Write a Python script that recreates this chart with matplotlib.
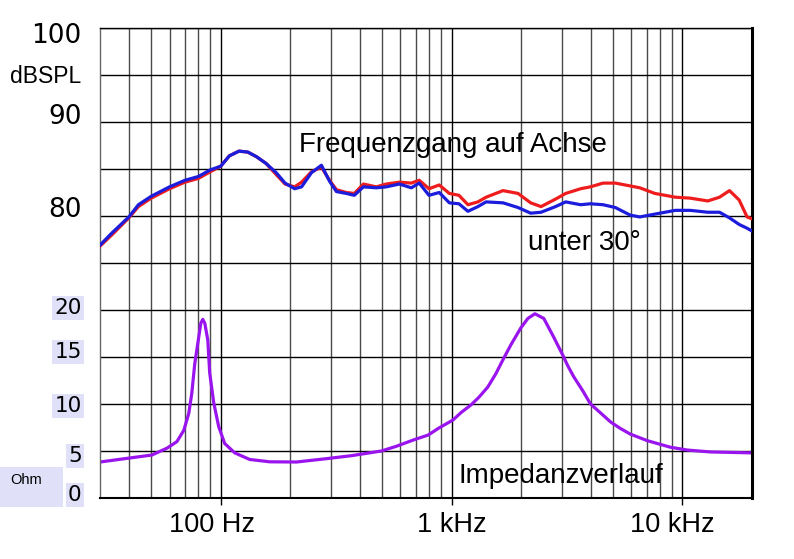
import matplotlib
matplotlib.use('Agg')
import matplotlib.pyplot as plt
from matplotlib.patches import Rectangle
from matplotlib.transforms import blended_transform_factory

# frequency response, on axis (red) and 30 deg off axis (blue)
fr_freq = [30, 33.8, 40, 44, 50, 60, 70, 80, 90, 100, 109, 120, 131, 143, 157,
           174, 190, 209, 224, 247, 273, 296, 317, 350, 379, 415, 472, 521, 594,
           669, 724, 798, 884, 978, 1076, 1177, 1300, 1410, 1670, 1940, 2200,
           2440, 2820, 3120, 3620, 3990, 4530, 5120, 5930, 6530, 7590, 9310,
           10800, 12870, 14470, 15980, 17600, 19040, 20000]
spl_axis = [76.8, 78.0, 79.8, 81.0, 81.9, 82.9, 83.6, 84.0, 84.7, 85.3, 86.4,
            86.9, 86.8, 86.3, 85.6, 84.4, 83.4, 83.1, 83.6, 84.7, 85.2, 83.8,
            82.8, 82.5, 82.4, 83.4, 83.1, 83.4, 83.6, 83.5, 83.8, 82.9, 83.3,
            82.4, 82.2, 81.2, 81.5, 82.0, 82.7, 82.4, 81.4, 81.0, 81.8, 82.4,
            82.9, 83.1, 83.5, 83.5, 83.2, 83.0, 82.4, 82.0, 81.9, 81.6, 82.0,
            82.7, 81.7, 79.9, 79.7]
spl_30deg = [76.9, 78.2, 79.9, 81.2, 82.1, 83.1, 83.8, 84.2, 84.9, 85.3, 86.4,
             86.9, 86.8, 86.3, 85.6, 84.6, 83.5, 82.9, 83.1, 84.6, 85.4, 83.7,
             82.6, 82.4, 82.2, 83.1, 83.0, 83.1, 83.4, 83.0, 83.5, 82.2, 82.5,
             81.4, 81.3, 80.5, 81.0, 81.5, 81.4, 80.9, 80.3, 80.4, 81.0, 81.5,
             81.2, 81.3, 81.2, 80.9, 80.1, 79.9, 80.2, 80.6, 80.6, 80.4, 80.4,
             79.8, 79.1, 78.7, 78.4]

# impedance
z_freq = [30, 40.5, 50.3, 58.5, 64.6, 69.2, 72.7, 74.9, 77.2, 80.3, 82.0, 83.6,
          85.3, 87.9, 89.6, 93.3, 98.0, 104, 115, 133.5, 163, 213, 279, 368,
          496, 576, 688, 792, 875, 1014, 1100, 1213, 1311, 1434, 1553, 1668,
          1806, 1995, 2139, 2295, 2508, 2770, 3030, 3180, 3380, 3700, 3995,
          4440, 4875, 5380, 5940, 7040, 8870, 10500, 13200, 20000]
z_ohm = [3.83, 4.26, 4.57, 5.3, 6.0, 7.2, 9.0, 11.1, 14.3, 17.1, 18.6, 19.0,
         18.6, 16.8, 13.3, 10.1, 7.6, 5.8, 4.8, 4.1, 3.85, 3.83, 4.15, 4.5,
         5.0, 5.5, 6.2, 6.7, 7.4, 8.3, 9.1, 9.9, 10.7, 11.8, 13.2, 14.7, 16.3,
         18.1, 19.1, 19.6, 19.1, 17.1, 15.2, 14.1, 12.9, 11.4, 10.0, 9.0, 8.1,
         7.4, 6.8, 6.1, 5.4, 5.1, 4.9, 4.8]

db_labels = ['100', '90', '80']
ohm_labels = ['20', '15', '10', '5', '0']
x_label_freqs = [92, 1000, 9000]
x_labels = ['100 Hz', '1 kHz', '10 kHz']

plt.rcParams['font.family'] = ['Liberation Sans', 'DejaVu Sans']

fig = plt.figure(figsize=(7.94, 5.59), dpi=100)
ax = fig.add_axes([100 / 794, 61 / 559, 652 / 794, 470 / 559])
ax.set_xscale('log')
ax.set_xlim(30, 20000)
ax.set_ylim(0, 50)

# grid
ax.set_xticks([100, 1000, 10000])
minor = [m * d for d in (10, 100, 1000) for m in range(2, 10) if m * d > 30]
ax.set_xticks(minor, minor=True)
ax.set_xticklabels([])
ax.set_xticklabels([], minor=True)
ax.set_yticks(range(0, 51, 5))
ax.set_yticklabels([])
ax.tick_params(axis='y', length=0)
ax.tick_params(axis='x', which='major', length=5, width=1, color='black')
ax.tick_params(axis='x', which='minor', length=0)
ax.grid(True, which='major', axis='both', color='black', lw=1.0)
ax.grid(True, which='minor', axis='x', color='#4a4a4a', lw=1.0)
ax.set_axisbelow(True)

ax.spines['top'].set_linewidth(1.0)
ax.spines['bottom'].set_linewidth(1.5)
ax.spines['right'].set_linewidth(2.2)
ax.spines['left'].set_color('#666666')
ax.spines['left'].set_linewidth(1.0)

ax.plot(z_freq, z_ohm, color='#9a14ee', lw=2.3, solid_capstyle='round',
        solid_joinstyle='round')

ax2 = ax.twinx()
ax2.set_ylim(50, 100)
ax2.set_yticks([])
for s in ax2.spines.values():
    s.set_visible(False)
ax2.plot(fr_freq, spl_axis, color='#ee1c1c', lw=2.3, solid_joinstyle='round')
ax2.plot(fr_freq, spl_30deg, color='#1c1cdc', lw=2.3, solid_joinstyle='round')

# left labels
tr_db = blended_transform_factory(ax.transAxes, ax2.transData)
tr_z = blended_transform_factory(ax.transAxes, ax.transData)
lx = -0.028
for lbl, y in zip(db_labels, [99.2, 90.5, 80.6]):
    ax2.text(lx, y, lbl, transform=tr_db, ha='right', va='center',
             fontsize=19, family='DejaVu Sans', clip_on=False)
ax2.text(lx, 94.8, 'dBSPL', transform=tr_db, ha='right', va='center',
         fontsize=16.5, clip_on=False)

for lbl, y in zip(ohm_labels, [20.2, 15.5, 9.8, 4.5, 0.3]):
    ax.text(lx, y, lbl, transform=tr_z, ha='right', va='center',
            fontsize=15.5, family='DejaVu Sans', clip_on=False,
            bbox=dict(facecolor='#e0e0f8', edgecolor='none', pad=1.5))
ax.add_patch(Rectangle((-0.153, -0.019), 0.096, 0.085, transform=ax.transAxes,
                       facecolor='#e0e0f8', edgecolor='none', clip_on=False))
ax.text(-0.138, 1.9, 'Ohm', transform=tr_z, ha='left', va='center',
        fontsize=10.5, clip_on=False)

# x labels
tr_x = blended_transform_factory(ax.transData, ax.transAxes)
for f, lbl in zip(x_label_freqs, x_labels):
    ax.text(f, -0.072, lbl, transform=tr_x, ha='center', va='baseline',
            fontsize=19.5, clip_on=False)

# annotations
ax2.text(219, 86.8, 'Frequenzgang auf Achse', ha='left', va='baseline', fontsize=20)
ax2.text(2138, 76.4, 'unter 30°', ha='left', va='baseline', fontsize=20)
ax.text(1075, 1.6, 'Impedanzverlauf', ha='left', va='baseline', fontsize=20)

fig.savefig('out.png', dpi=100, facecolor='white')
